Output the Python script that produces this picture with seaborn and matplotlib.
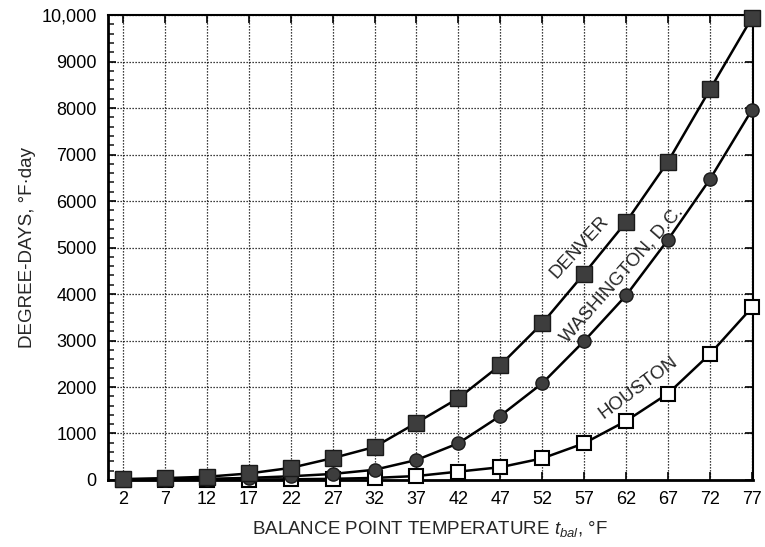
import numpy as np
import pandas as pd
import matplotlib
matplotlib.use('Agg')
import matplotlib.pyplot as plt
import seaborn as sns
from matplotlib.ticker import MultipleLocator

t_bal = [2, 7, 12, 17, 22, 27, 32, 37, 42, 47, 52, 57, 62, 67, 72, 77]
denver = [20, 40, 70, 140, 260, 470, 710, 1230, 1760, 2470, 3370, 4440, 5550, 6850, 8400, 9940]
washington = [5, 10, 25, 45, 80, 130, 220, 430, 790, 1380, 2080, 2990, 3970, 5170, 6470, 7960]
houston = [0, 0, 5, 10, 15, 25, 45, 85, 180, 275, 465, 790, 1270, 1860, 2710, 3710]

sns.set_style('white')
plt.rcParams['font.family'] = ['Liberation Sans', 'DejaVu Sans']
plt.rcParams['mathtext.fontset'] = 'custom'
plt.rcParams['mathtext.it'] = 'Liberation Sans:italic'
plt.rcParams['mathtext.rm'] = 'Liberation Sans'

fig = plt.figure(figsize=(7.65, 5.47), dpi=100)
ax = fig.add_axes([0.141, 0.1225, 0.843, 0.850])

df = pd.DataFrame({'t': t_bal, 'DENVER': denver, 'WASHINGTON, D.C.': washington, 'HOUSTON': houston})

sns.lineplot(data=df, x='t', y='HOUSTON', ax=ax, color='black', lw=1.8,
             marker='s', markersize=10, markerfacecolor='white',
             markeredgecolor='black', markeredgewidth=1.5, zorder=3, clip_on=False)
sns.lineplot(data=df, x='t', y='WASHINGTON, D.C.', ax=ax, color='black', lw=1.8,
             marker='o', markersize=9.5, markerfacecolor='#3d3d3d',
             markeredgecolor='#1a1a1a', markeredgewidth=1, zorder=4, clip_on=False)
sns.lineplot(data=df, x='t', y='DENVER', ax=ax, color='black', lw=1.8,
             marker='s', markersize=11.5, markerfacecolor='#3d3d3d',
             markeredgecolor='#1a1a1a', markeredgewidth=1, zorder=5, clip_on=False)

ax.set_xlim(0.2, 77.1)
ax.set_ylim(0, 10000)
ax.set_xticks(t_bal)
ax.set_yticks(range(0, 10001, 1000))
ax.set_yticklabels([f'{v:,}' if v == 10000 else str(v) for v in range(0, 10001, 1000)])
ax.yaxis.set_minor_locator(MultipleLocator(200))

ax.grid(True, which='major', color='black', linestyle=(0, (1, 1.4)), linewidth=0.9)
ax.tick_params(axis='both', which='major', direction='in', labelsize=13, colors='black',
               length=6, width=1.2, pad=8)
ax.tick_params(axis='x', top=True, bottom=True)
ax.tick_params(axis='y', left=True, right=True)
ax.tick_params(axis='y', which='minor', direction='in', left=True, right=False, length=4, width=1.2)

for side in ['left', 'bottom']:
    ax.spines[side].set_linewidth(2)
for side in ['top', 'right']:
    ax.spines[side].set_linewidth(1.5)
for s in ax.spines.values():
    s.set_color('black')

ax.set_xlabel(r'BALANCE POINT TEMPERATURE $t_{bal}$, °F', fontsize=13.5, labelpad=8)
ax.set_ylabel('DEGREE-DAYS, °F·day', fontsize=13.5, labelpad=4)

ax.text(56.4, 5010, 'DENVER', rotation=47.5, rotation_mode='anchor',
        ha='center', va='center', fontsize=13.5, zorder=6)
ax.text(61.5, 4410, 'WASHINGTON, D.C.', rotation=48.5, rotation_mode='anchor',
        ha='center', va='center', fontsize=13.5, zorder=6)
ax.text(63.4, 1980, 'HOUSTON', rotation=36.5, rotation_mode='anchor',
        ha='center', va='center', fontsize=13.5, zorder=6)

fig.savefig('out.png', dpi=100)
